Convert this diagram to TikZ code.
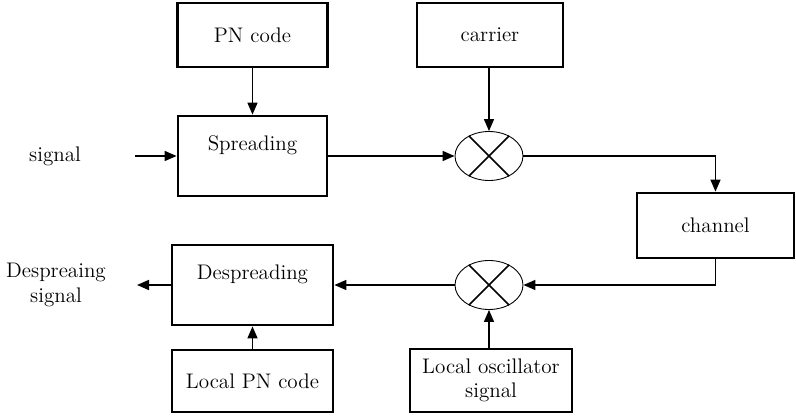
\documentclass[tikz,border=0pt]{standalone}
\usetikzlibrary{arrows.meta,shapes.geometric}
\tikzset{
  blk/.style={draw, line width=1.6pt, minimum width=3cm, minimum height=1.28cm, align=center, font=\large},
  tallblk/.style={blk, minimum height=1.6cm, text depth=0.5cm},
  mix/.style={draw, ellipse, line width=0.5pt, minimum width=1.36cm, minimum height=0.98cm, inner sep=0pt},
  sig/.style={line width=0.9pt, -{Triangle[length=0.24cm,width=0.2cm]}},
  wire/.style={line width=0.9pt}
}
\begin{document}
\begin{tikzpicture}
\useasboundingbox (0,0) rectangle (15.92,8.34);
%\draw [help lines,black!20!white] (0,0) grid (16,8);

% transmitter
\node[blk] (pn) at (5.05,7.64) {PN code};
\node[tallblk, minimum width=2.98cm] (spread) at (5.05,5.22) {Spreading};
\node[blk, minimum width=2.92cm] (carrier) at (9.80,7.64) {carrier};
\node[mix] (m1) at (9.78,5.22) {};
\node[font=\large] (in) at (1.10,5.22) {signal};
\coordinate (inend) at (2.70,5.22);

% channel
\node[blk, minimum width=3.14cm, minimum height=1.3cm] (channel) at (14.31,3.83) {channel};

% receiver
\node[mix] (m2) at (9.78,2.64) {};
\node[blk, minimum width=3.24cm, minimum height=1.26cm] (lo) at (9.82,0.73) {Local oscillator\\signal};
\node[tallblk, minimum width=3.22cm] (despread) at (5.05,2.64) {Despreading};
\node[blk, minimum width=3.22cm, minimum height=1.24cm] (lpn) at (5.05,0.72) {Local PN code};
\node[font=\large, align=center] (out) at (1.12,2.64) {Despreaing\\signal};
\coordinate (outend) at (2.74,2.64);

% crosses in the mixers
\foreach \m in {m1,m2} {
  \draw[line width=0.9pt] (\m.135) -- (\m.-45);
  \draw[line width=0.9pt] (\m.45) -- (\m.-135);
}

% connections
\draw[sig] (inend) -- (spread.west |- inend);
\draw[sig] (pn) -- (spread);
\draw[sig] (spread.east |- m1) -- (m1);
\draw[sig] (carrier.south -| m1) -- (m1);
\draw[sig] (m1) -| (channel);
\draw[sig] (channel.south) |- (m2);
\draw[sig] (lo.north -| m2) -- (m2);
\draw[sig] (m2) -- (despread.east |- m2);
\draw[sig] (lpn) -- (despread);
\draw[sig] (despread.west |- outend) -- (outend);

\end{tikzpicture}
\end{document}
